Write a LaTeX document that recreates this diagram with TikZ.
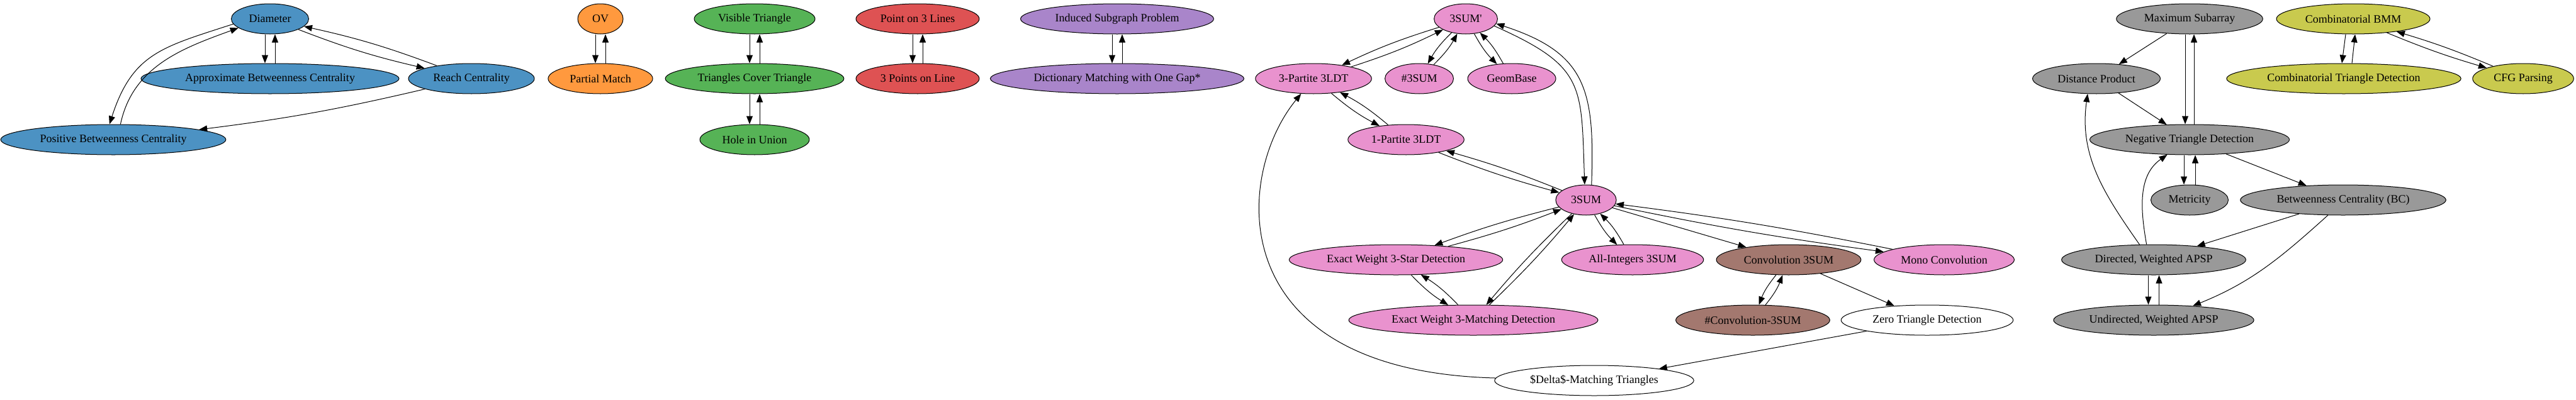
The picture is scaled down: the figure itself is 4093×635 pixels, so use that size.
\documentclass[tikz,border=0pt]{standalone}
\usepackage{fontspec}
\setmainfont{Liberation Serif}
\usetikzlibrary{arrows.meta,shapes.geometric}

\definecolor{cblue}{RGB}{76,146,195}
\definecolor{corange}{RGB}{255,153,62}
\definecolor{cgreen}{RGB}{86,179,86}
\definecolor{cred}{RGB}{222,82,83}
\definecolor{cpurple}{RGB}{169,133,202}
\definecolor{cbrown}{RGB}{163,120,111}
\definecolor{cpink}{RGB}{233,146,206}
\definecolor{cgray}{RGB}{153,153,153}
\definecolor{colive}{RGB}{201,202,78}

\begin{document}
\begin{tikzpicture}[
  x=1pt, y=1pt, font=\fontsize{18}{20}\selectfont,
  nd/.style  ={draw,ellipse,line width=1pt,minimum width=72pt,minimum height=48pt,inner xsep=10pt,inner ysep=2pt},
  blu/.style ={nd,fill=cblue},
  org/.style ={nd,fill=corange},
  grn/.style ={nd,fill=cgreen},
  rd/.style  ={nd,fill=cred},
  prp/.style ={nd,fill=cpurple},
  pnk/.style ={nd,fill=cpink},
  brn/.style ={nd,fill=cbrown},
  gry/.style ={nd,fill=cgray},
  olv/.style ={nd,fill=colive},
  wht/.style ={nd,fill=white},
  ln/.style  ={draw,-{Triangle[length=13pt,width=10pt]},line width=1pt},
]
\useasboundingbox (0,0) rectangle (4093,-635);

% ----------------------------------------------------------- diameter group
\node[blu] (dia) at (429,-30)  {Diameter};
\node[blu] (abc) at (429,-125) {Approximate Betweenness Centrality};
\node[blu] (rch) at (749,-125) {Reach Centrality};
\node[blu] (pbc) at (180,-222) {Positive Betweenness Centrality};

\draw[ln] ([xshift=-8]dia.south) -- ([xshift=-8]abc.north);
\draw[ln] ([xshift=8]abc.north) -- ([xshift=8]dia.south);
\draw[ln] (dia) to[bend right=4] (rch);
\draw[ln] (rch) to[bend right=4] (dia);
\draw[ln] (dia.188) to[out=198,in=72,looseness=1.2] (pbc.104);
\draw[ln] (pbc.65) to[out=78,in=200] (dia.196);
\draw[ln] (rch) to[bend left=3] (pbc);

% ----------------------------------------------------------- small pairs
\node[org] (ov)   at (954,-30)  {OV};
\node[org] (pm)   at (954,-125) {Partial Match};
\node[grn] (vt)   at (1199,-30)  {Visible Triangle};
\node[grn] (tct)  at (1199,-125) {Triangles Cover Triangle};
\node[grn] (hiu)  at (1199,-222) {Hole in Union};
\node[rd]  (potl) at (1458,-30)  {Point on 3 Lines};
\node[rd]  (tpol) at (1458,-125) {3 Points on Line};
\node[prp] (isp)  at (1775,-30)  {Induced Subgraph Problem};
\node[prp] (dmg)  at (1775,-125) {Dictionary Matching with One Gap*};

\draw[ln] ([xshift=-8]ov.south) -- ([xshift=-8]pm.north);
\draw[ln] ([xshift=8]pm.north) -- ([xshift=8]ov.south);
\draw[ln] ([xshift=-8]vt.south) -- ([xshift=-8]tct.north);
\draw[ln] ([xshift=8]tct.north) -- ([xshift=8]vt.south);
\draw[ln] ([xshift=-8]tct.south) -- ([xshift=-8]hiu.north);
\draw[ln] ([xshift=8]hiu.north) -- ([xshift=8]tct.south);
\draw[ln] ([xshift=-8]potl.south) -- ([xshift=-8]tpol.north);
\draw[ln] ([xshift=8]tpol.north) -- ([xshift=8]potl.south);
\draw[ln] ([xshift=-8]isp.south) -- ([xshift=-8]dmg.north);
\draw[ln] ([xshift=8]dmg.north) -- ([xshift=8]isp.south);

% ----------------------------------------------------------- 3SUM group
\node[pnk] (sump)  at (2329,-30)  {3SUM\textquotesingle};
\node[pnk] (tptl)  at (2087,-125) {3-Partite 3LDT};
\node[pnk] (csum)  at (2255,-125) {\#3SUM};
\node[pnk] (geo)   at (2402,-125) {GeomBase};
\node[pnk] (optl)  at (2234,-222) {1-Partite 3LDT};
\node[pnk] (sum)   at (2520,-318) {3SUM};
\node[pnk] (ews)   at (2218,-413) {Exact Weight 3-Star Detection};
\node[pnk] (ais)   at (2594,-413) {All-Integers 3SUM};
\node[pnk] (ewm)   at (2341,-509) {Exact Weight 3-Matching Detection};
\node[pnk] (mono)  at (3089,-413) {Mono Convolution};
\node[brn] (conv)  at (2842,-413) {Convolution 3SUM};
\node[brn] (cconv) at (2785,-509) {\#Convolution-3SUM};
\node[wht] (zero)  at (3062,-509) {Zero Triangle Detection};
\node[wht] (delta) at (2533,-605) {\$Delta\$-Matching Triangles};

\draw[ln] (sump) to[bend right=4] (tptl);
\draw[ln] (tptl) to[bend right=4] (sump);
\draw[ln] (sump) to[bend right=8] (csum);
\draw[ln] (csum) to[bend right=8] (sump);
\draw[ln] (sump) to[bend right=8] (geo);
\draw[ln] (geo) to[bend right=8] (sump);
\draw[ln] (sump.-14) to[out=-24,in=92,looseness=1.4] (sum.95);
\draw[ln] (sum.70) to[out=88,in=-18,looseness=1.3] (sump.-9);
\draw[ln] (tptl) to[bend right=6] (optl);
\draw[ln] (optl) to[bend right=6] (tptl);
\draw[ln] (optl) to[bend right=3] (sum);
\draw[ln] (sum) to[bend right=3] (optl);
\draw[ln] (sum) to[bend right=3] (ews);
\draw[ln] (ews) to[bend right=3] (sum);
\draw[ln] (sum) to[bend right=3] (ewm);
\draw[ln] (ewm) to[bend right=3] (sum);
\draw[ln] (ews) to[bend right=7] (ewm);
\draw[ln] (ewm) to[bend right=7] (ews);
\draw[ln] (sum) to[bend right=8] (ais);
\draw[ln] (ais) to[bend right=8] (sum);
\draw[ln] (sum) -- (conv);
\draw[ln] (sum) to[bend right=2] (mono);
\draw[ln] (mono) to[bend right=2] (sum);
\draw[ln] (conv) to[bend right=9] (cconv);
\draw[ln] (cconv) to[bend right=9] (conv);
\draw[ln] (conv) -- (zero);
\draw[ln] (zero) -- (delta);
\draw[ln] (delta) .. controls (1940,-590) and (1960,-280) .. (tptl);

% ----------------------------------------------------------- APSP group
\node[gry] (msa) at (3479,-30)  {Maximum Subarray};
\node[gry] (dp)  at (3331,-125) {Distance Product};
\node[gry] (ntd) at (3479,-222) {Negative Triangle Detection};
\node[gry] (met) at (3479,-318) {Metricity};
\node[gry] (bc)  at (3723,-318) {Betweenness Centrality (BC)};
\node[gry] (dap) at (3422,-413) {Directed, Weighted APSP};
\node[gry] (uap) at (3422,-509) {Undirected, Weighted APSP};

\draw[ln] (msa) -- (dp);
\draw[ln] ([xshift=-7]msa.south) -- ([xshift=-7]ntd.north);
\draw[ln] ([xshift=7]ntd.north) -- ([xshift=7]msa.south);
\draw[ln] (dp) -- (ntd);
\draw[ln] ([xshift=-9]ntd.south) -- ([xshift=-9]met.north);
\draw[ln] ([xshift=9]met.north) -- ([xshift=9]ntd.south);
\draw[ln] (ntd) -- (bc);
\draw[ln] (dap.133) to[out=125,in=-98] (dp.240);
\draw[ln] (dap.115) to[out=100,in=215] (ntd.214);
\draw[ln] (bc) -- (dap);
\draw[ln] (bc.225) to[out=222,in=22] (uap.20);
\draw[ln] ([xshift=-8.5]dap.south) -- ([xshift=-8.5]uap.north);
\draw[ln] ([xshift=8.5]uap.north) -- ([xshift=8.5]dap.south);

% ----------------------------------------------------------- BMM group
\node[olv] (cbmm) at (3739,-30)  {Combinatorial BMM};
\node[olv] (ctd)  at (3724,-125) {Combinatorial Triangle Detection};
\node[olv] (cfg)  at (4009,-125) {CFG Parsing};

\draw[ln] ([xshift=-12]cbmm.south) -- ([xshift=-3]ctd.north);
\draw[ln] ([xshift=13]ctd.north) -- ([xshift=3]cbmm.south);
\draw[ln] (cbmm) to[bend right=3] (cfg);
\draw[ln] (cfg) to[bend right=3] (cbmm);

\end{tikzpicture}
\end{document}
